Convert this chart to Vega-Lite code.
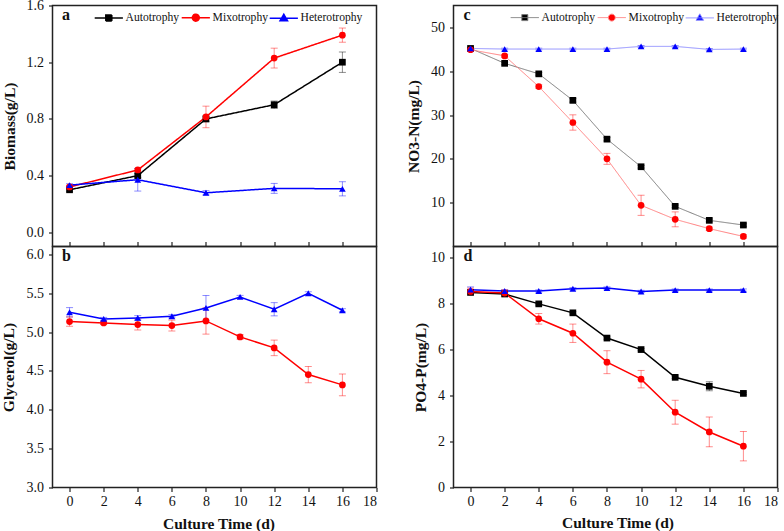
{
  "$schema": "https://vega.github.io/schema/vega-lite/v6.json",
  "autosize": {"type": "none"},
  "padding": {"left": 52.5, "top": 5.5, "right": 731.5, "bottom": 525.5},
  "background": "white",
  "config": {
    "font": "Liberation Serif",
    "view": {"stroke": "#222", "strokeWidth": 1.5},
    "axis": {"labelFont": "Liberation Serif", "labelFontSize": 14, "labelColor": "#111", "titleFont": "Liberation Serif", "titleFontSize": 15.5, "titleFontWeight": "bold", "titleColor": "#111", "tickColor": "#222", "tickWidth": 1.2, "tickSize": 4, "domain": false, "grid": false, "labelPadding": 5, "labelOverlap": false},
    "axisX": {"labelPadding": 3},
    "legend": {"labelFont": "Liberation Serif", "labelFontSize": 11.6, "labelColor": "#111"}
  },
  "datasets": {
    "d": [
      {"p":"a","s":"Autotrophy","t":0,"v":0.30,"e":0.01},
      {"p":"a","s":"Autotrophy","t":4,"v":0.40,"e":0.015},
      {"p":"a","s":"Autotrophy","t":8,"v":0.80,"e":0.02},
      {"p":"a","s":"Autotrophy","t":12,"v":0.90,"e":0.026},
      {"p":"a","s":"Autotrophy","t":16,"v":1.20,"e":0.072},
      {"p":"a","s":"Mixotrophy","t":0,"v":0.32,"e":0.01},
      {"p":"a","s":"Mixotrophy","t":4,"v":0.44,"e":0.01},
      {"p":"a","s":"Mixotrophy","t":8,"v":0.814,"e":0.076},
      {"p":"a","s":"Mixotrophy","t":12,"v":1.229,"e":0.07},
      {"p":"a","s":"Mixotrophy","t":16,"v":1.391,"e":0.05},
      {"p":"a","s":"Heterotrophy","t":0,"v":0.333,"e":0.01},
      {"p":"a","s":"Heterotrophy","t":4,"v":0.371,"e":0.08},
      {"p":"a","s":"Heterotrophy","t":8,"v":0.279,"e":0.015},
      {"p":"a","s":"Heterotrophy","t":12,"v":0.31,"e":0.035},
      {"p":"a","s":"Heterotrophy","t":16,"v":0.307,"e":0.05},
      {"p":"b","s":"Mixotrophy","t":0,"v":5.134,"e":0.06},
      {"p":"b","s":"Mixotrophy","t":2,"v":5.117,"e":0.02},
      {"p":"b","s":"Mixotrophy","t":4,"v":5.096,"e":0.07},
      {"p":"b","s":"Mixotrophy","t":6,"v":5.083,"e":0.07},
      {"p":"b","s":"Mixotrophy","t":8,"v":5.143,"e":0.17},
      {"p":"b","s":"Mixotrophy","t":10,"v":4.937,"e":0.03},
      {"p":"b","s":"Mixotrophy","t":12,"v":4.796,"e":0.1},
      {"p":"b","s":"Mixotrophy","t":14,"v":4.453,"e":0.105},
      {"p":"b","s":"Mixotrophy","t":16,"v":4.32,"e":0.14},
      {"p":"b","s":"Heterotrophy","t":0,"v":5.254,"e":0.06},
      {"p":"b","s":"Heterotrophy","t":2,"v":5.168,"e":0.02},
      {"p":"b","s":"Heterotrophy","t":4,"v":5.181,"e":0.03},
      {"p":"b","s":"Heterotrophy","t":6,"v":5.203,"e":0.02},
      {"p":"b","s":"Heterotrophy","t":8,"v":5.31,"e":0.16},
      {"p":"b","s":"Heterotrophy","t":10,"v":5.451,"e":0.02},
      {"p":"b","s":"Heterotrophy","t":12,"v":5.293,"e":0.085},
      {"p":"b","s":"Heterotrophy","t":14,"v":5.499,"e":0.02},
      {"p":"b","s":"Heterotrophy","t":16,"v":5.28,"e":0.02},
      {"p":"c","s":"Autotrophy","t":0,"v":45.2,"e":0.3},
      {"p":"c","s":"Autotrophy","t":2,"v":41.8,"e":0.3},
      {"p":"c","s":"Autotrophy","t":4,"v":39.4,"e":0.3},
      {"p":"c","s":"Autotrophy","t":6,"v":33.35,"e":0.4},
      {"p":"c","s":"Autotrophy","t":8,"v":24.5,"e":0.4},
      {"p":"c","s":"Autotrophy","t":10,"v":18.2,"e":0.3},
      {"p":"c","s":"Autotrophy","t":12,"v":9.16,"e":0.3},
      {"p":"c","s":"Autotrophy","t":14,"v":5.97,"e":0.3},
      {"p":"c","s":"Autotrophy","t":16,"v":4.9,"e":0.3},
      {"p":"c","s":"Mixotrophy","t":0,"v":44.9,"e":0.3},
      {"p":"c","s":"Mixotrophy","t":2,"v":43.5,"e":0.3},
      {"p":"c","s":"Mixotrophy","t":4,"v":36.5,"e":0.4},
      {"p":"c","s":"Mixotrophy","t":6,"v":28.3,"e":1.75},
      {"p":"c","s":"Mixotrophy","t":8,"v":20.0,"e":1.25},
      {"p":"c","s":"Mixotrophy","t":10,"v":9.4,"e":2.3},
      {"p":"c","s":"Mixotrophy","t":12,"v":6.2,"e":1.7},
      {"p":"c","s":"Mixotrophy","t":14,"v":4.07,"e":0.4},
      {"p":"c","s":"Mixotrophy","t":16,"v":2.3,"e":0.4},
      {"p":"c","s":"Heterotrophy","t":0,"v":45.2,"e":0.2},
      {"p":"c","s":"Heterotrophy","t":2,"v":45.06,"e":0.2},
      {"p":"c","s":"Heterotrophy","t":4,"v":45.06,"e":0.2},
      {"p":"c","s":"Heterotrophy","t":6,"v":45.06,"e":0.2},
      {"p":"c","s":"Heterotrophy","t":8,"v":45.06,"e":0.2},
      {"p":"c","s":"Heterotrophy","t":10,"v":45.67,"e":0.2},
      {"p":"c","s":"Heterotrophy","t":12,"v":45.67,"e":0.2},
      {"p":"c","s":"Heterotrophy","t":14,"v":44.98,"e":0.2},
      {"p":"c","s":"Heterotrophy","t":16,"v":45.06,"e":0.2},
      {"p":"d","s":"Autotrophy","t":0,"v":8.5,"e":0.05},
      {"p":"d","s":"Autotrophy","t":2,"v":8.43,"e":0.05},
      {"p":"d","s":"Autotrophy","t":4,"v":8.0,"e":0.05},
      {"p":"d","s":"Autotrophy","t":6,"v":7.61,"e":0.05},
      {"p":"d","s":"Autotrophy","t":8,"v":6.51,"e":0.05},
      {"p":"d","s":"Autotrophy","t":10,"v":6.01,"e":0.05},
      {"p":"d","s":"Autotrophy","t":12,"v":4.8,"e":0.05},
      {"p":"d","s":"Autotrophy","t":14,"v":4.41,"e":0.2},
      {"p":"d","s":"Autotrophy","t":16,"v":4.1,"e":0.05},
      {"p":"d","s":"Mixotrophy","t":0,"v":8.54,"e":0.15},
      {"p":"d","s":"Mixotrophy","t":2,"v":8.47,"e":0.15},
      {"p":"d","s":"Mixotrophy","t":4,"v":7.35,"e":0.23},
      {"p":"d","s":"Mixotrophy","t":6,"v":6.72,"e":0.4},
      {"p":"d","s":"Mixotrophy","t":8,"v":5.46,"e":0.5},
      {"p":"d","s":"Mixotrophy","t":10,"v":4.72,"e":0.38},
      {"p":"d","s":"Mixotrophy","t":12,"v":3.28,"e":0.52},
      {"p":"d","s":"Mixotrophy","t":14,"v":2.42,"e":0.65},
      {"p":"d","s":"Mixotrophy","t":16,"v":1.8,"e":0.64},
      {"p":"d","s":"Heterotrophy","t":0,"v":8.62,"e":0.12},
      {"p":"d","s":"Heterotrophy","t":2,"v":8.56,"e":0.05},
      {"p":"d","s":"Heterotrophy","t":4,"v":8.56,"e":0.05},
      {"p":"d","s":"Heterotrophy","t":6,"v":8.66,"e":0.05},
      {"p":"d","s":"Heterotrophy","t":8,"v":8.69,"e":0.05},
      {"p":"d","s":"Heterotrophy","t":10,"v":8.54,"e":0.05},
      {"p":"d","s":"Heterotrophy","t":12,"v":8.6,"e":0.05},
      {"p":"d","s":"Heterotrophy","t":14,"v":8.6,"e":0.05},
      {"p":"d","s":"Heterotrophy","t":16,"v":8.6,"e":0.05}
    ]
  },
  "bounds": "flush",
  "columns": 2,
  "spacing": {"row": 0, "column": 77},
  "resolve": {"scale": {"color": "independent", "shape": "independent", "strokeDash": "independent", "stroke": "independent"}},
  "concat": [
    {
      "width": 324, "height": 241,
      "layer": [
        {
          "data": {"name": "d"},
          "transform": [{"filter": "datum.p === 'a'"}],
          "encoding": {
            "x": {"field": "t", "type": "quantitative", "scale": {"domain": [-1, 18], "nice": false, "zero": false}, "axis": {"values": [0,2,4,6,8,10,12,14,16], "labels": false, "tickSize": -5, "title": null}},
            "y": {"field": "v", "type": "quantitative", "scale": {"domain": [-0.1, 1.6], "nice": false, "zero": false}, "axis": {"values": [0,0.4,0.8,1.2,1.6], "format": ".1f", "title": "Biomass(g/L)", "titleX": -43.5, "titleBaseline": "middle"}},
            "color": {"field": "s", "type": "nominal", "scale": {"domain": ["Mixotrophy","Autotrophy","Heterotrophy"], "range": ["#ff0000","#000000","#0000ff"]}, "legend": null}
          },
          "layer": [
            {"mark": {"type": "errorbar", "ticks": {"size": 7, "opacity": 0.45}, "rule": {"opacity": 0.45}}, "encoding": {"yError": {"field": "e"}}},
            {"mark": {"type": "line", "strokeWidth": 1.5}, "encoding": {
              "strokeDash": {"field": "s", "type": "nominal", "scale": {"domain": ["Autotrophy","Mixotrophy","Heterotrophy"], "range": [[1,0],[1,0],[1,0]]},
                "legend": {"orient": "none", "legendX": 40.5, "legendY": 6, "direction": "horizontal", "title": null, "padding": 0, "symbolSize": 36, "symbolOffset": 10, "labelOffset": 11, "columnPadding": -8, "labelFont": "Liberation Serif", "labelFontSize": 11.6, "labelColor": "#111",
                  "encode": {"symbols": {"update": {
                    "shape": {"signal": "datum.value === 'Autotrophy' ? 'M-4.7,0H4.7M-1,-1H1V1H-1Z' : datum.value === 'Mixotrophy' ? 'M-4.7,0H-1.15M1.15,0H4.7M1.15,0A1.15,1.15,0,1,1,-1.15,0A1.15,1.15,0,1,1,1.15,0Z' : 'M-4.7,0.1H4.7M0,-1.25L1.25,0.9H-1.25Z'"},
                    "fill": {"signal": "datum.value === 'Autotrophy' ? '#000000' : datum.value === 'Mixotrophy' ? '#ff0000' : '#0000ff'"},
                    "stroke": {"signal": "datum.value === 'Autotrophy' ? '#000000' : datum.value === 'Mixotrophy' ? '#ff0000' : '#0000ff'"},
                    "strokeWidth": {"value": 1.5},
                    "opacity": {"value": 1}
                  }}}}}
            }},
            {"mark": {"type": "point", "filled": true, "size": 45, "opacity": 1}, "encoding": {"shape": {"field": "s", "type": "nominal", "scale": {"domain": ["Heterotrophy","Mixotrophy","Autotrophy"], "range": ["triangle-up","circle","square"]}, "legend": null}}}
          ]
        },
        {
          "data": {"values": [{}]},
          "mark": {"type": "text", "text": "a", "align": "left", "baseline": "alphabetic", "font": "Liberation Serif", "fontSize": 16, "fontWeight": "bold", "color": "#111"},
          "encoding": {
            "x": {"datum": -0.44, "type": "quantitative", "scale": {"domain": [-1, 18], "nice": false, "zero": false}, "axis": {"values": [0,2,4,6,8,10,12,14,16], "labels": false, "tickSize": -5, "title": null}},
            "y": {"datum": 1.498, "type": "quantitative", "scale": {"domain": [-0.1, 1.6], "nice": false, "zero": false}, "axis": {"values": [0,0.4,0.8,1.2,1.6], "format": ".1f", "title": "Biomass(g/L)", "titleX": -43.5, "titleBaseline": "middle"}}
          }
        }
      ]
    },
    {
      "width": 324, "height": 241,
      "layer": [
        {
          "data": {"name": "d"},
          "transform": [{"filter": "datum.p === 'c'"}],
          "encoding": {
            "x": {"field": "t", "type": "quantitative", "scale": {"domain": [-1, 18], "nice": false, "zero": false}, "axis": {"values": [0,2,4,6,8,10,12,14,16], "labels": false, "tickSize": -5, "title": null}},
            "y": {"field": "v", "type": "quantitative", "scale": {"domain": [0, 55], "nice": false, "zero": false}, "axis": {"values": [10,20,30,40,50], "title": "NO3-N(mg/L)", "titleX": -40.5, "titleBaseline": "middle"}},
            "color": {"field": "s", "type": "nominal", "scale": {"domain": ["Mixotrophy","Autotrophy","Heterotrophy"], "range": ["#ff0000","#000000","#0000ff"]}, "legend": null}
          },
          "layer": [
            {"mark": {"type": "errorbar", "ticks": {"size": 7, "opacity": 0.45}, "rule": {"opacity": 0.45}}, "encoding": {"yError": {"field": "e"}}},
            {"mark": {"type": "line", "strokeWidth": 1}, "encoding": {
              "stroke": {"field": "s", "type": "nominal", "scale": {"domain": ["Autotrophy","Heterotrophy","Mixotrophy"], "range": ["#7a7a7a","#8c8cff","#ff8080"]}, "legend": null},
              "strokeDash": {"field": "s", "type": "nominal", "scale": {"domain": ["Autotrophy","Mixotrophy","Heterotrophy"], "range": [[1,0],[1,0],[1,0]]},
                "legend": {"orient": "none", "legendX": 55.5, "legendY": 6, "direction": "horizontal", "title": null, "padding": 0, "symbolSize": 36, "symbolOffset": 10, "labelOffset": 11, "columnPadding": -8, "labelFont": "Liberation Serif", "labelFontSize": 11.6, "labelColor": "#111",
                  "encode": {"symbols": {"update": {
                    "shape": {"signal": "datum.value === 'Autotrophy' ? 'M-4.7,0H4.7M-1,-1H1V1H-1Z' : datum.value === 'Mixotrophy' ? 'M-4.7,0H-1.15M1.15,0H4.7M1.15,0A1.15,1.15,0,1,1,-1.15,0A1.15,1.15,0,1,1,1.15,0Z' : 'M-4.7,0.1H4.7M0,-1.25L1.25,0.9H-1.25Z'"},
                    "fill": {"signal": "datum.value === 'Autotrophy' ? '#000000' : datum.value === 'Mixotrophy' ? '#ff0000' : '#0000ff'"},
                    "stroke": {"signal": "datum.value === 'Autotrophy' ? '#7a7a7a' : datum.value === 'Mixotrophy' ? '#ff8080' : '#8c8cff'"},
                    "strokeWidth": {"value": 1},
                    "opacity": {"value": 1}
                  }}}}}
            }},
            {"mark": {"type": "point", "filled": true, "size": 45, "opacity": 1}, "encoding": {"shape": {"field": "s", "type": "nominal", "scale": {"domain": ["Heterotrophy","Mixotrophy","Autotrophy"], "range": ["triangle-up","circle","square"]}, "legend": null}}}
          ]
        },
        {
          "data": {"values": [{}]},
          "mark": {"type": "text", "text": "c", "align": "left", "baseline": "alphabetic", "font": "Liberation Serif", "fontSize": 16, "fontWeight": "bold", "color": "#111"},
          "encoding": {
            "x": {"datum": -0.41, "type": "quantitative", "scale": {"domain": [-1, 18], "nice": false, "zero": false}, "axis": {"values": [0,2,4,6,8,10,12,14,16], "labels": false, "tickSize": -5, "title": null}},
            "y": {"datum": 51.69, "type": "quantitative", "scale": {"domain": [0, 55], "nice": false, "zero": false}, "axis": {"values": [10,20,30,40,50], "title": "NO3-N(mg/L)", "titleX": -40.5, "titleBaseline": "middle"}}
          }
        }
      ]
    },
    {
      "width": 324, "height": 241,
      "layer": [
        {
          "data": {"name": "d"},
          "transform": [{"filter": "datum.p === 'b'"}],
          "encoding": {
            "x": {"field": "t", "type": "quantitative", "scale": {"domain": [-1, 18], "nice": false, "zero": false}, "axis": {"values": [0,2,4,6,8,10,12,14,16,18], "title": "Culture Time (d)", "titleX": 166, "titleY": 36, "titleBaseline": "middle"}},
            "y": {"field": "v", "type": "quantitative", "scale": {"domain": [3, 6.1], "nice": false, "zero": false}, "axis": {"values": [3,3.5,4,4.5,5,5.5,6], "format": ".1f", "title": "Glycerol(g/L)", "titleX": -44, "titleBaseline": "middle"}},
            "color": {"field": "s", "type": "nominal", "scale": {"domain": ["Mixotrophy","Autotrophy","Heterotrophy"], "range": ["#ff0000","#000000","#0000ff"]}, "legend": null}
          },
          "layer": [
            {"mark": {"type": "errorbar", "ticks": {"size": 7, "opacity": 0.45}, "rule": {"opacity": 0.45}}, "encoding": {"yError": {"field": "e"}}},
            {"mark": {"type": "line", "strokeWidth": 1.5}},
            {"mark": {"type": "point", "filled": true, "size": 45, "opacity": 1}, "encoding": {"shape": {"field": "s", "type": "nominal", "scale": {"domain": ["Heterotrophy","Mixotrophy","Autotrophy"], "range": ["triangle-up","circle","square"]}, "legend": null}}}
          ]
        },
        {
          "data": {"values": [{}]},
          "mark": {"type": "text", "text": "b", "align": "left", "baseline": "alphabetic", "font": "Liberation Serif", "fontSize": 16, "fontWeight": "bold", "color": "#111"},
          "encoding": {
            "x": {"datum": -0.44, "type": "quantitative", "scale": {"domain": [-1, 18], "nice": false, "zero": false}, "axis": {"values": [0,2,4,6,8,10,12,14,16,18], "title": "Culture Time (d)", "titleX": 166, "titleY": 36, "titleBaseline": "middle"}},
            "y": {"datum": 5.913, "type": "quantitative", "scale": {"domain": [3, 6.1], "nice": false, "zero": false}, "axis": {"values": [3,3.5,4,4.5,5,5.5,6], "format": ".1f", "title": "Glycerol(g/L)", "titleX": -44, "titleBaseline": "middle"}}
          }
        }
      ]
    },
    {
      "width": 324, "height": 241,
      "layer": [
        {
          "data": {"name": "d"},
          "transform": [{"filter": "datum.p === 'd'"}],
          "encoding": {
            "x": {"field": "t", "type": "quantitative", "scale": {"domain": [-1, 18], "nice": false, "zero": false}, "axis": {"values": [0,2,4,6,8,10,12,14,16,18], "title": "Culture Time (d)", "titleX": 164, "titleY": 35, "titleBaseline": "middle"}},
            "y": {"field": "v", "type": "quantitative", "scale": {"domain": [0, 10.5], "nice": false, "zero": false}, "axis": {"values": [0,2,4,6,8,10], "title": "PO4-P(mg/L)", "titleX": -33, "titleBaseline": "middle"}},
            "color": {"field": "s", "type": "nominal", "scale": {"domain": ["Mixotrophy","Autotrophy","Heterotrophy"], "range": ["#ff0000","#000000","#0000ff"]}, "legend": null}
          },
          "layer": [
            {"mark": {"type": "errorbar", "ticks": {"size": 7, "opacity": 0.45}, "rule": {"opacity": 0.45}}, "encoding": {"yError": {"field": "e"}}},
            {"mark": {"type": "line", "strokeWidth": 1.5}},
            {"mark": {"type": "point", "filled": true, "size": 45, "opacity": 1}, "encoding": {"shape": {"field": "s", "type": "nominal", "scale": {"domain": ["Heterotrophy","Mixotrophy","Autotrophy"], "range": ["triangle-up","circle","square"]}, "legend": null}}}
          ]
        },
        {
          "data": {"values": [{}]},
          "mark": {"type": "text", "text": "d", "align": "left", "baseline": "alphabetic", "font": "Liberation Serif", "fontSize": 16, "fontWeight": "bold", "color": "#111"},
          "encoding": {
            "x": {"datum": -0.41, "type": "quantitative", "scale": {"domain": [-1, 18], "nice": false, "zero": false}, "axis": {"values": [0,2,4,6,8,10,12,14,16,18], "title": "Culture Time (d)", "titleX": 164, "titleY": 35, "titleBaseline": "middle"}},
            "y": {"datum": 9.868, "type": "quantitative", "scale": {"domain": [0, 10.5], "nice": false, "zero": false}, "axis": {"values": [0,2,4,6,8,10], "title": "PO4-P(mg/L)", "titleX": -33, "titleBaseline": "middle"}}
          }
        }
      ]
    }
  ]
}
